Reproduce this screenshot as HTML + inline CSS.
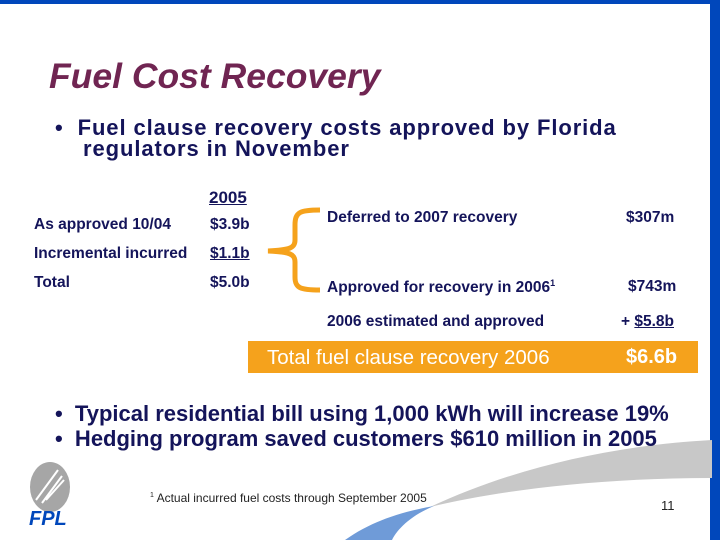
<!DOCTYPE html>
<html><head><meta charset="utf-8"><style>
body{margin:0}
#s{position:relative;width:720px;height:540px;background:#fff;overflow:hidden;font-family:"Liberation Sans",Arial,sans-serif;color:#14145a}
.t{position:absolute;white-space:nowrap;font-weight:bold}
.sm{font-size:15.5px}
</style></head><body>
<div id="s">
<div style="position:absolute;left:0;top:0;width:720px;height:4px;background:#0047bb"></div>
<div style="position:absolute;left:710px;top:0;width:10px;height:540px;background:#0047bb"></div>
<svg style="position:absolute;left:0;top:0" width="720" height="540">
<path d="M430 507 C520 465 620 445 712 440 L712 478 C600 478 500 490 430 507 Z" fill="#c8c8c8"/>
<path d="M345 540 C370 522 400 512 434 506 C412 515 398 528 392 540 Z" fill="#6f9bd8"/>
<ellipse cx="50" cy="487" rx="20" ry="25" fill="#a6a6a6"/>
<path d="M36 500 L58 470 M42 503 L62 476 M46 500 L64 480" stroke="#fff" stroke-width="2" fill="none"/>
<path d="M320 210 C300 210 295 212 295 225 L295 240 C295 248 290 250 268 251 C290 252 295 254 295 262 L295 277 C295 288 300 290 320 290" stroke="#f5a21c" stroke-width="5" fill="none"/>
</svg>
<div class="t" style="left:49px;top:56px;font-size:35.5px;font-style:italic;color:#702552">Fuel Cost Recovery</div>
<div class="t" style="left:55px;top:117px;font-size:22px;line-height:21px;letter-spacing:0.9px">•&nbsp;&nbsp;Fuel clause recovery costs approved by Florida<br>&nbsp;&nbsp;&nbsp;&nbsp;regulators in November</div>
<div class="t" style="left:209px;top:188px;font-size:17px;text-decoration:underline">2005</div>
<div class="t sm" style="left:34px;top:216px">As approved 10/04</div>
<div class="t sm" style="left:210px;top:216px">$3.9b</div>
<div class="t sm" style="left:34px;top:245px">Incremental incurred</div>
<div class="t sm" style="left:210px;top:245px;text-decoration:underline">$1.1b</div>
<div class="t sm" style="left:34px;top:274px">Total</div>
<div class="t sm" style="left:210px;top:274px">$5.0b</div>
<div class="t sm" style="left:327px;top:209px">Deferred to 2007 recovery</div>
<div class="t sm" style="left:626px;top:209px">$307m</div>
<div class="t sm" style="left:327px;top:278px">Approved for recovery in 2006<sup style="font-size:9px">1</sup></div>
<div class="t sm" style="left:628px;top:278px">$743m</div>
<div class="t sm" style="left:327px;top:313px">2006 estimated and approved</div>
<div class="t sm" style="left:621px;top:313px">+ <u>$5.8b</u></div>
<div style="position:absolute;left:248px;top:341px;width:450px;height:32px;background:#f5a21c"></div>
<div class="t" style="left:267px;top:346px;font-size:20.5px;color:#fff;font-weight:normal">Total fuel clause recovery 2006</div>
<div class="t" style="left:626px;top:346px;font-size:20px;color:#fff">$6.6b</div>
<div class="t" style="left:55px;top:401px;font-size:22px;line-height:25px">•&nbsp;&nbsp;Typical residential bill using 1,000 kWh will increase 19%<br>•&nbsp;&nbsp;Hedging program saved customers $610 million in 2005</div>
<div class="t" style="left:29px;top:508px;font-size:20px;color:#0047bb;font-style:italic">FPL</div>
<div class="t" style="left:150px;top:491px;font-size:12px;font-weight:normal;color:#222"><sup style="font-size:7px">1</sup> Actual incurred fuel costs through September 2005</div>
<div class="t" style="left:661px;top:498px;font-size:13px;font-weight:normal;color:#222">11</div>
</div>
</body></html>
